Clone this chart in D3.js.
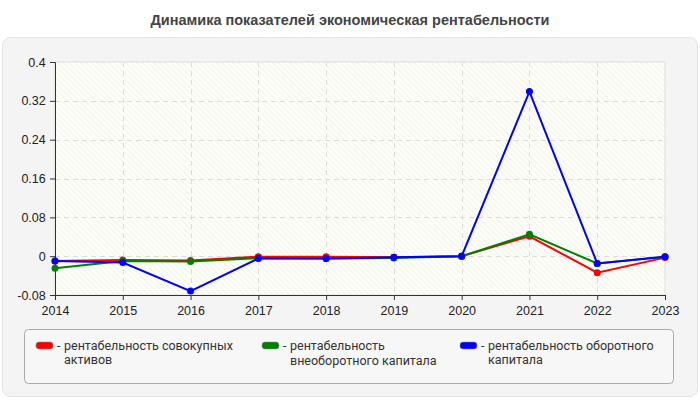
<!DOCTYPE html>
<html lang="ru">
<head>
  <meta charset="UTF-8">
  <title>Динамика показателей</title>
  <script src="https://d3js.org/d3.v7.min.js"></script>
  <style>
    body { margin: 0; padding: 0; background: #fff; }
    svg { display: block; font-family: "Liberation Sans", Arial, sans-serif; }
  </style>
</head>
<body>
  <svg id="chart" width="700" height="400"></svg>
  <script>
    const years = [2014, 2015, 2016, 2017, 2018, 2019, 2020, 2021, 2022, 2023];
    const yTicks = [-0.08, 0, 0.08, 0.16, 0.24, 0.32, 0.4];

    // рентабельность совокупных активов
    const assetsRoa = [-0.010, -0.008, -0.009, -0.001, -0.001, -0.002, 0.000, 0.041, -0.034, -0.003];
    // рентабельность внеоборотного капитала
    const fixedCapital = [-0.025, -0.010, -0.011, -0.004, -0.005, -0.004, 0.000, 0.045, -0.015, -0.001];
    // рентабельность оборотного капитала
    const workingCapital = [-0.010, -0.013, -0.072, -0.005, -0.005, -0.002, 0.000, 0.339, -0.015, -0.001];

    const seriesNames = [
      ["рентабельность совокупных", "активов"],
      ["рентабельность", "внеоборотного капитала"],
      ["рентабельность оборотного", "капитала"]
    ];
    const seriesColors = ["#ff0000", "#008000", "#0000ff"];
    const seriesValues = [assetsRoa, fixedCapital, workingCapital];

    const svg = d3.select("#chart");
    const margin = { left: 55, right: 665, top: 62, bottom: 295 };

    // title
    svg.append("text")
      .attr("x", 350).attr("y", 25)
      .attr("text-anchor", "middle")
      .attr("font-size", 14.5).attr("font-weight", "bold")
      .attr("fill", "#444")
      .text("Динамика показателей экономическая рентабельности");

    // outer panel
    svg.append("rect")
      .attr("x", 2.5).attr("y", 37.5).attr("width", 695).attr("height", 359)
      .attr("rx", 8)
      .attr("fill", "#f4f4f4").attr("stroke", "#e2e2e2");

    // hatch pattern for plot bg
    const defs = svg.append("defs");
    const pat = defs.append("pattern")
      .attr("id", "hatch")
      .attr("patternUnits", "userSpaceOnUse")
      .attr("width", 4).attr("height", 4)
      .attr("patternTransform", "rotate(-45)");
    pat.append("rect").attr("width", 4).attr("height", 4).attr("fill", "#fefef8");
    pat.append("line").attr("x1", 0).attr("y1", 0).attr("x2", 0).attr("y2", 4)
      .attr("stroke", "#f0f0ea").attr("stroke-width", 1.5);

    svg.append("rect")
      .attr("x", margin.left).attr("y", margin.top)
      .attr("width", margin.right - margin.left).attr("height", margin.bottom - margin.top)
      .attr("fill", "url(#hatch)")
      .attr("stroke", "#dedede");

    const x = d3.scaleLinear().domain([2014, 2023]).range([margin.left, margin.right]);
    const y = d3.scaleLinear().domain([-0.08, 0.4]).range([margin.bottom, margin.top]);

    // grid
    const grid = svg.append("g").attr("stroke", "#dcdcdc").attr("stroke-dasharray", "5,4");
    grid.selectAll(".gx").data(years.slice(1, -1)).join("line")
      .attr("x1", d => Math.round(x(d)) + 0.5).attr("x2", d => Math.round(x(d)) + 0.5)
      .attr("y1", margin.top).attr("y2", margin.bottom);
    grid.selectAll(".gy").data(yTicks.slice(1, -1)).join("line")
      .attr("x1", margin.left).attr("x2", margin.right)
      .attr("y1", d => Math.round(y(d)) + 0.5).attr("y2", d => Math.round(y(d)) + 0.5);

    // axes
    const yAxis = d3.axisLeft(y).tickValues(yTicks).tickSize(5).tickFormat(d => String(+d.toFixed(2)));
    const gy = svg.append("g").attr("transform", `translate(${margin.left},0)`).call(yAxis);
    const xAxis = d3.axisBottom(x).tickValues(years).tickSize(5).tickFormat(d3.format("d"));
    const gx = svg.append("g").attr("transform", `translate(0,${margin.bottom})`).call(xAxis);
    [gx, gy].forEach(g => {
      g.select(".domain").attr("stroke", "#333");
      g.selectAll(".tick line").attr("stroke", "#333");
      g.selectAll("text").attr("font-size", 12.5).attr("fill", "#222")
        .attr("font-family", "'Liberation Sans', Arial, sans-serif");
    });
    gx.selectAll("text").attr("dy", "0.95em");
    gy.selectAll("text").attr("dx", "-0.1em");

    // lines + markers
    const line = d3.line().x((d, i) => x(years[i])).y(d => y(d));
    seriesValues.forEach((vals, k) => {
      svg.append("path").datum(vals)
        .attr("d", line)
        .attr("fill", "none")
        .attr("stroke", seriesColors[k])
        .attr("stroke-width", 2);
      svg.append("g").selectAll("circle").data(vals).join("circle")
        .attr("cx", (d, i) => x(years[i]))
        .attr("cy", d => y(d))
        .attr("r", 3.5)
        .attr("fill", seriesColors[k]);
    });

    // legend
    svg.append("rect")
      .attr("x", 24.5).attr("y", 329.5).attr("width", 649).attr("height", 54)
      .attr("rx", 4)
      .attr("fill", "#f7f7f7").attr("stroke", "#aaa");

    const legendX = [36, 262, 460];
    const secondLineDy = [14, 15, 14];
    seriesNames.forEach((lines, k) => {
      const g = svg.append("g").attr("transform", `translate(${legendX[k]},0)`);
      g.append("rect")
        .attr("x", 0).attr("y", 342).attr("width", 17).attr("height", 7)
        .attr("rx", 3)
        .attr("fill", seriesColors[k]).attr("stroke", "#888").attr("stroke-width", 0.5);
      g.append("text")
        .attr("x", 21).attr("y", 350)
        .attr("font-family", "Roboto, sans-serif")
        .attr("font-size", 12.5).attr("fill", "#333")
        .text("-");
      const t = g.append("text")
        .attr("font-family", "Roboto, sans-serif")
        .attr("font-size", 12.5).attr("fill", "#333");
      t.append("tspan").attr("x", 28).attr("y", 350).text(lines[0]);
      t.append("tspan").attr("x", 28).attr("y", 350 + secondLineDy[k]).text(lines[1]);
    });
  </script>
</body>
</html>
